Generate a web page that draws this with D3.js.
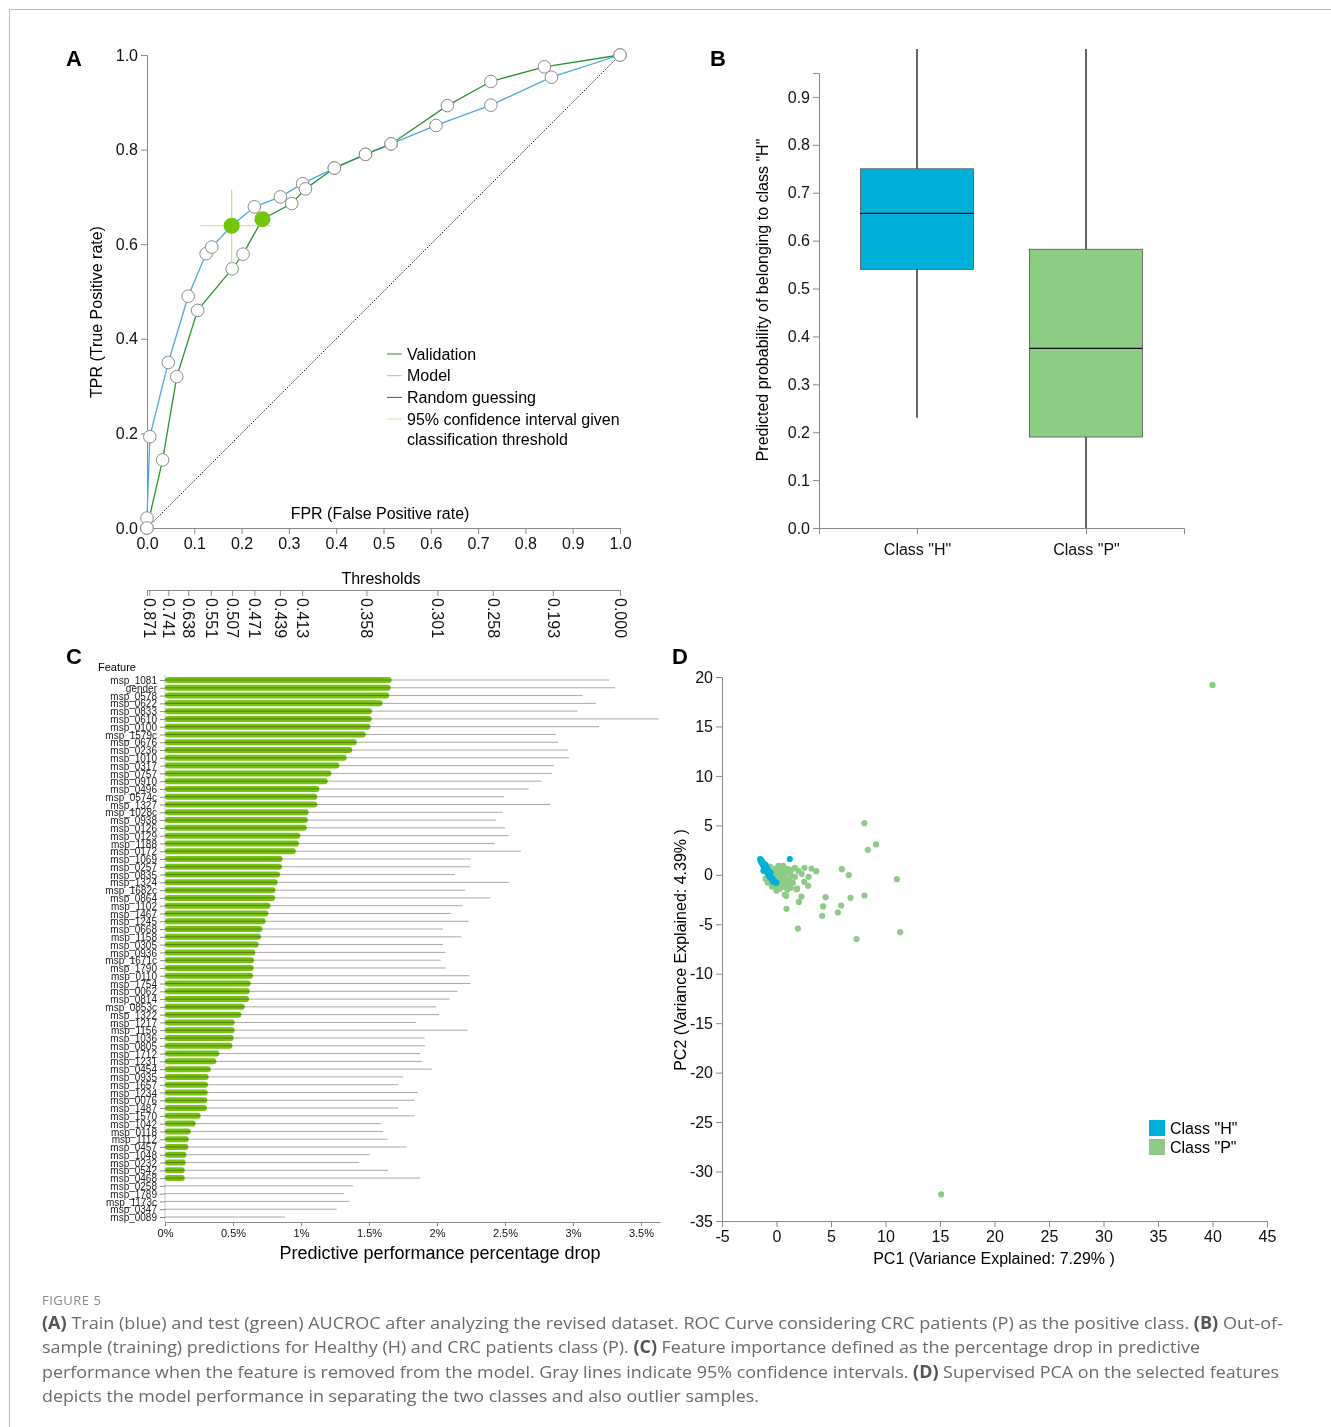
<!DOCTYPE html>
<html lang="en">
<head>
<meta charset="UTF-8">
<title>Figure 5</title>
<script src="https://cdn.jsdelivr.net/npm/d3@7"></script>
<style>
    body { margin: 0; background: #fff; }
    svg { display: block; font-family: "Liberation Sans", Arial, sans-serif; }
    .axis path, .axis line { stroke: #8a8a8a; }
    .axis text { fill: #111; }
    .caption { font-family: "Open Sans", sans-serif; fill: #6b6b6b; }
</style>
</head>
<body>
<svg width="1331" height="1427"></svg>
<script>
    // ---- A: ROC curves ----
    var modelFpr = [0, 0, 0.006, 0.045, 0.087, 0.125, 0.137, 0.179, 0.227, 0.282, 0.329, 0.396, 0.462, 0.516, 0.611, 0.727, 0.855, 1];
    var modelTpr = [0, 0.021, 0.193, 0.35, 0.49, 0.58, 0.594, 0.639, 0.679, 0.70, 0.728, 0.761, 0.79, 0.812, 0.851, 0.894, 0.953, 1];
    var valFpr = [0, 0.033, 0.063, 0.107, 0.18, 0.203, 0.244, 0.306, 0.335, 0.396, 0.462, 0.516, 0.635, 0.727, 0.84, 1];
    var valTpr = [0, 0.144, 0.32, 0.46, 0.548, 0.579, 0.653, 0.686, 0.717, 0.761, 0.79, 0.812, 0.893, 0.944, 0.975, 1];
    var opFpr = [0.179, 0.244];
    var opTpr = [0.639, 0.653];
    var ciFpr = [0.113, 0.262];
    var ciTpr = [0.56, 0.715];
    var thrFpr = [0.005, 0.045, 0.087, 0.135, 0.18, 0.227, 0.281, 0.328, 0.464, 0.614, 0.731, 0.858, 1.0];
    var thrLabels = ["0.871", "0.741", "0.638", "0.551", "0.507", "0.471", "0.439", "0.413", "0.358", "0.301", "0.258", "0.193", "0.000"];
    var rocTicks = [0, 0.1, 0.2, 0.3, 0.4, 0.5, 0.6, 0.7, 0.8, 0.9, 1.0];
    var rocYTicks = [0, 0.2, 0.4, 0.6, 0.8, 1.0];

    // ---- B: box plot ----
    var boxCats = ['Class "H"', 'Class "P"'];
    var boxMin = [0.23, 0.0];
    var boxQ1 = [0.54, 0.19];
    var boxMed = [0.657, 0.375];
    var boxQ3 = [0.75, 0.582];
    var boxMax = [1.0, 1.0];
    var boxColors = ["#00b0d8", "#8dcb87"];
    var boxTicks = [0, 0.1, 0.2, 0.3, 0.4, 0.5, 0.6, 0.7, 0.8, 0.9];

    // ---- C: feature importance ----
    var features = ["msp_1081", "gender", "msp_0578", "msp_0622", "msp_0833", "msp_0610", "msp_0100", "msp_1579c", "msp_0676", "msp_0236",
        "msp_1010", "msp_0317", "msp_0757", "msp_0910", "msp_0496", "msp_0574c", "msp_1327", "msp_1028c", "msp_0938", "msp_0126",
        "msp_0129", "msp_1188", "msp_0172", "msp_1069", "msp_0257", "msp_0835", "msp_1324", "msp_1682c", "msp_0864", "msp_1102",
        "msp_1467", "msp_1245", "msp_0668", "msp_1158", "msp_0305", "msp_0936", "msp_1671c", "msp_1790", "msp_0110", "msp_1754",
        "msp_0062", "msp_0814", "msp_0853c", "msp_1322", "msp_1217", "msp_1156", "msp_1036", "msp_0805", "msp_1712", "msp_1231",
        "msp_0454", "msp_0935", "msp_1657", "msp_1234", "msp_0076", "msp_1487", "msp_1570", "msp_1042", "msp_0118", "msp_1112",
        "msp_0457", "msp_1048", "msp_0232", "msp_0542", "msp_0468", "msp_0258", "msp_1789", "msp_1173c", "msp_0347", "msp_0089"];
    var drop = [1.667, 1.659, 1.649, 1.60, 1.522, 1.52, 1.51, 1.476, 1.41, 1.377,
        1.336, 1.282, 1.223, 1.196, 1.135, 1.12, 1.12, 1.056, 1.051, 1.042,
        0.995, 0.985, 0.961, 0.865, 0.86, 0.846, 0.828, 0.811, 0.809, 0.775,
        0.76, 0.74, 0.716, 0.706, 0.689, 0.664, 0.654, 0.652, 0.647, 0.63,
        0.623, 0.618, 0.586, 0.561, 0.512, 0.512, 0.505, 0.495, 0.40, 0.377,
        0.336, 0.321, 0.316, 0.314, 0.311, 0.309, 0.262, 0.225, 0.189, 0.174,
        0.172, 0.157, 0.152, 0.145, 0.145, 0, 0, 0, 0, 0];
    var ciUpper = [3.267, 3.309, 3.071, 3.169, 3.032, 3.63, 3.191, 2.873, 2.89, 2.963,
        2.971, 2.86, 2.846, 2.77, 2.674, 2.493, 2.831, 2.483, 2.436, 2.5,
        2.527, 2.424, 2.618, 2.25, 2.245, 2.132, 2.529, 2.208, 2.392, 2.189,
        2.10, 2.233, 2.044, 2.179, 2.044, 2.064, 2.027, 2.064, 2.24, 2.245,
        2.152, 2.093, 1.995, 2.015, 1.848, 2.225, 1.909, 1.912, 1.877, 1.89,
        1.963, 1.752, 1.718, 1.86, 1.833, 1.716, 1.836, 1.59, 1.605, 1.637,
        1.777, 1.505, 1.429, 1.64, 1.877, 1.382, 1.316, 1.355, 1.262, 0.882];
    var dropTicks = [0, 0.5, 1, 1.5, 2, 2.5, 3, 3.5];

    // ---- D: supervised PCA ----
    var pcaH = [[-1.5, 1.6], [-1.45, 1.4], [-1.4, 1.5], [-1.35, 1.2], [-1.3, 1.3], [-1.25, 1.0], [-1.2, 1.15], [-1.15, 0.8],
        [-1.1, 0.95], [-1.05, 0.6], [-1.0, 1.0], [-0.95, 0.5], [-0.9, 0.7], [-0.85, 0.3], [-0.8, 0.1], [-0.75, 0.4],
        [-0.7, 0.0], [-0.6, -0.1], [-0.55, 0.2], [-0.5, -0.3], [-0.4, -0.5], [-0.35, -0.4], [-0.2, -0.6], [-0.1, -0.75],
        [0.0, -0.8], [-0.3, -0.7], [-1.2, 0.4], [-0.65, -0.2], [1.22, 1.6]];
    var pcaP = [[40.0, 19.2], [15.1, -32.3], [8.07, 5.22], [9.14, 3.07], [8.38, 2.53], [11.04, -0.44], [11.35, -5.8],
        [7.34, -6.5], [1.96, -5.43], [0.92, -3.44], [4.19, -4.15], [4.28, -3.2], [4.5, -2.26], [5.63, -3.81],
        [5.93, -3.1], [6.79, -2.33], [8.07, -2.09], [5.99, 0.57], [6.64, -0.03], [3.64, 0.37], [3.21, 0.64],
        [2.94, -0.2], [2.9, -1.11], [2.57, 0.71], [2.54, -0.71], [2.29, -2.2], [1.83, -1.45], [1.68, 0.71],
        [1.07, 0.57], [0.89, -2.12], [0.76, -2.02], [0.58, 0.84], [2.05, -2.74], [2.31, 0.1],
        [-0.9, 0.3], [-0.7, -0.2], [-0.5, 0.5], [-0.4, -0.6], [-0.3, 0.1], [-0.2, -1.1], [-0.1, 0.6], [0, -0.3],
        [0.1, 0.2], [0.2, -0.9], [0.3, 0.7], [0.3, -1.4], [0.4, -0.1], [0.5, 0.4], [0.5, -0.7], [0.6, 0.9],
        [0.7, -1.2], [0.8, 0.1], [0.8, -0.5], [0.9, 0.6], [1.0, -0.9], [1.1, 0.3], [1.2, -0.4], [1.3, -1.3],
        [1.4, 0.5], [1.5, -0.8], [-1.0, -0.4], [-0.6, 0.8], [0.0, -1.6], [0.2, 0.9], [-0.8, -0.8], [1.0, -1.5],
        [0.6, -0.2], [-0.2, 0.3], [1.7, -0.2], [1.9, -1.4], [2.0, 0.4], [-0.4, -1.2], [0.1, -0.5], [1.3, 0.0]];
    var pcaXTicks = [-5, 0, 5, 10, 15, 20, 25, 30, 35, 40, 45];
    var pcaYTicks = [-35, -30, -25, -20, -15, -10, -5, 0, 5, 10, 15, 20];

    var caption = [
        [["(A)", 1], [" Train (blue) and test (green) AUCROC after analyzing the revised dataset. ROC Curve considering CRC patients (P) as the positive class. ", 0], ["(B)", 1], [" Out-of-", 0]],
        [["sample (training) predictions for Healthy (H) and CRC patients class (P). ", 0], ["(C)", 1], [" Feature importance defined as the percentage drop in predictive", 0]],
        [["performance when the feature is removed from the model. Gray lines indicate 95% confidence intervals. ", 0], ["(D)", 1], [" Supervised PCA on the selected features", 0]],
        [["depicts the model performance in separating the two classes and also outlier samples.", 0]]
    ];
    var captionWidths = [1241, 1158, 1237, 717];
</script>
<script>
    var svg = d3.select("svg");

    // frame
    svg.append("path").attr("d", "M9.5,1427V9.5H1331").attr("fill", "none").attr("stroke", "#bdbdbd");

    function panelLetter(t, x, y) {
        svg.append("text").attr("x", x).attr("y", y).text(t)
            .style("font-size", "22px").style("font-weight", "bold");
    }

    // ======== A ========
    var xA = d3.scaleLinear().domain([0, 1]).range([147, 620]);
    var yA = d3.scaleLinear().domain([0, 1]).range([528, 55]);
    var gA = svg.append("g");

    gA.append("g").attr("class", "axis").attr("transform", "translate(147,0)")
        .call(d3.axisLeft(yA).tickValues(rocYTicks).tickFormat(d3.format(".1f")))
        .selectAll("text").style("font-size", "16px");
    gA.append("g").attr("class", "axis").attr("transform", "translate(0,528)")
        .call(d3.axisBottom(xA).tickValues(rocTicks).tickFormat(d3.format(".1f")))
        .selectAll("text").style("font-size", "16px").attr("y", 10);

    var thrAxis = gA.append("g").attr("class", "axis").attr("transform", "translate(0,590)")
        .call(d3.axisBottom(xA).tickValues(thrFpr).tickFormat(function (d, i) { return thrLabels[i]; }));
    thrAxis.selectAll("text").style("font-size", "16px")
        .attr("transform", "rotate(90)").attr("x", 8).attr("y", 0).attr("dy", "0.35em")
        .style("text-anchor", "start");

    gA.append("text").attr("x", 381).attr("y", 584).attr("text-anchor", "middle").style("font-size", "16px").text("Thresholds");
    gA.append("text").attr("x", 380).attr("y", 519).attr("text-anchor", "middle").style("font-size", "16px").text("FPR (False Positive rate)");
    gA.append("text").attr("transform", "translate(102,312) rotate(-90)").attr("text-anchor", "middle")
        .style("font-size", "16px").text("TPR (True Positive rate)");

    gA.append("line").attr("x1", xA(0)).attr("y1", yA(0)).attr("x2", xA(1)).attr("y2", yA(1))
        .attr("stroke", "#222").attr("stroke-width", 1).attr("stroke-dasharray", "1.5,1.5");

    var lineA = d3.line().x(function (d) { return xA(d[0]); }).y(function (d) { return yA(d[1]); });
    var modelPts = d3.zip(modelFpr, modelTpr);
    var valPts = d3.zip(valFpr, valTpr);
    gA.append("path").datum(modelPts).attr("d", lineA).attr("fill", "none").attr("stroke", "#4ea8e6").attr("stroke-width", 1.3);
    gA.append("path").datum(valPts).attr("d", lineA).attr("fill", "none").attr("stroke", "#2a9430").attr("stroke-width", 1.3);

    gA.selectAll(".pt").data(modelPts.concat(valPts)).enter().append("circle")
        .attr("cx", function (d) { return xA(d[0]); }).attr("cy", function (d) { return yA(d[1]); })
        .attr("r", 6.3).attr("fill", "#fff").attr("stroke", "#8c8c8c").attr("stroke-width", 1);

    gA.append("line").attr("x1", xA(ciFpr[0])).attr("x2", xA(ciFpr[1])).attr("y1", yA(opTpr[0])).attr("y2", yA(opTpr[0]))
        .attr("stroke", "#bfe28f").attr("stroke-width", 1.2);
    gA.append("line").attr("x1", xA(opFpr[0])).attr("x2", xA(opFpr[0])).attr("y1", yA(ciTpr[0])).attr("y2", yA(ciTpr[1]))
        .attr("stroke", "#bfe28f").attr("stroke-width", 1.2);
    gA.selectAll(".op").data(d3.zip(opFpr, opTpr)).enter().append("circle")
        .attr("cx", function (d) { return xA(d[0]); }).attr("cy", function (d) { return yA(d[1]); })
        .attr("r", 8).attr("fill", "#76c30c");

    var legA = [["Validation", "#2a9430"], ["Model", "#8cc6ef"], ["Random guessing", "#555"], ["95% confidence interval given", "#c6e79c"]];
    legA.forEach(function (d, i) {
        var y = 354 + i * 21.7;
        gA.append("line").attr("x1", 387).attr("x2", 402).attr("y1", y).attr("y2", y).attr("stroke", d[1]);
        gA.append("text").attr("x", 407).attr("y", y + 5.5).style("font-size", "16px").text(d[0]);
    });
    gA.append("text").attr("x", 407).attr("y", 444.5).style("font-size", "16px").text("classification threshold");
    panelLetter("A", 66, 66);

    // ======== B ========
    var yB = d3.scaleLinear().domain([0, 0.95]).range([528, 73]);
    var xB = d3.scalePoint().domain(boxCats).range([819, 1184]).padding(0.58);
    var gB = svg.append("g");
    gB.append("g").attr("class", "axis").attr("transform", "translate(819,0)")
        .call(d3.axisLeft(yB).tickValues(boxTicks).tickFormat(d3.format(".1f")))
        .selectAll("text").style("font-size", "16px");
    gB.append("g").attr("class", "axis").attr("transform", "translate(0,528)")
        .call(d3.axisBottom(xB))
        .selectAll("text").style("font-size", "16px").attr("y", 16);
    gB.append("text").attr("transform", "translate(768,300) rotate(-90)").attr("text-anchor", "middle")
        .style("font-size", "16px").text('Predicted probability of belonging to class "H"');

    var boxW = 113;
    boxCats.forEach(function (c, i) {
        var cx = xB(c);
        gB.append("line").attr("x1", cx).attr("x2", cx).attr("y1", yB(boxMin[i])).attr("y2", yB(boxMax[i]))
            .attr("stroke", "#111").attr("stroke-width", 1.3);
        gB.append("rect").attr("x", cx - boxW / 2).attr("width", boxW)
            .attr("y", yB(boxQ3[i])).attr("height", yB(boxQ1[i]) - yB(boxQ3[i]))
            .attr("fill", boxColors[i]).attr("stroke", "#555").attr("stroke-width", 0.8);
        gB.append("line").attr("x1", cx - boxW / 2).attr("x2", cx + boxW / 2).attr("y1", yB(boxMed[i])).attr("y2", yB(boxMed[i]))
            .attr("stroke", "#111").attr("stroke-width", 1.4);
    });
    panelLetter("B", 710, 66);

    // ======== C ========
    var xC = d3.scaleLinear().domain([0, 3.64]).range([165, 660]);
    var yC = d3.scalePoint().domain(features).range([680, 1217]);
    var gC = svg.append("g");
    gC.append("line").attr("x1", 165).attr("x2", 165).attr("y1", 675).attr("y2", 1222).attr("stroke", "#c8c8c8");
    var axC = gC.append("g").attr("class", "axis").attr("transform", "translate(165,0)")
        .call(d3.axisLeft(yC).tickSize(5).tickSizeOuter(0));
    axC.select(".domain").remove();
    axC.selectAll("line").attr("stroke", "#999");
    axC.selectAll("text").style("font-size", "10px").style("fill", "#222").attr("dy", "0.36em");
    gC.append("g").attr("class", "axis").attr("transform", "translate(0,1222)")
        .call(d3.axisBottom(xC).tickValues(dropTicks).tickSize(4).tickSizeOuter(0)
            .tickFormat(function (d) { return d + "%"; }))
        .selectAll("text").style("font-size", "11px").attr("y", 7);
    gC.selectAll(".axis .domain").attr("stroke", "#c8c8c8");

    gC.selectAll(".bar").data(features).enter().append("rect")
        .attr("x", xC(0))
        .attr("y", function (d) { return yC(d) - 3; })
        .attr("height", 6).attr("rx", 3)
        .attr("width", function (d, i) { return xC(drop[i]) - xC(0); })
        .attr("fill", "#77c30f");
    gC.selectAll(".ci").data(features).enter().append("line")
        .attr("x1", xC(0))
        .attr("x2", function (d, i) { return xC(ciUpper[i]); })
        .attr("y1", function (d) { return yC(d); })
        .attr("y2", function (d) { return yC(d); })
        .attr("stroke", "#a8a8a8").attr("stroke-width", 1)
        .style("mix-blend-mode", "multiply");

    gC.append("text").attr("x", 98).attr("y", 671).style("font-size", "11px").text("Feature");
    gC.append("text").attr("x", 440).attr("y", 1259).attr("text-anchor", "middle").style("font-size", "18px")
        .text("Predictive performance percentage drop");
    panelLetter("C", 66, 664);

    // ======== D ========
    var xD = d3.scaleLinear().domain([-5, 45]).range([722, 1267]);
    var yD = d3.scaleLinear().domain([-35, 20]).range([1221, 677]);
    var plain = function (d) { return String(d); };
    var gD = svg.append("g");
    gD.append("g").attr("class", "axis").attr("transform", "translate(722,0)")
        .call(d3.axisLeft(yD).tickValues(pcaYTicks).tickFormat(plain))
        .selectAll("text").style("font-size", "16px");
    gD.append("g").attr("class", "axis").attr("transform", "translate(0,1221)")
        .call(d3.axisBottom(xD).tickValues(pcaXTicks).tickFormat(plain))
        .selectAll("text").style("font-size", "16px").attr("y", 10);
    gD.append("text").attr("x", 994).attr("y", 1264).attr("text-anchor", "middle").style("font-size", "16px")
        .text("PC1 (Variance Explained: 7.29% )");
    gD.append("text").attr("transform", "translate(686,950) rotate(-90)").attr("text-anchor", "middle")
        .style("font-size", "16px").text("PC2 (Variance Explained: 4.39% )");

    gD.selectAll(".p").data(pcaP).enter().append("circle")
        .attr("cx", function (d) { return xD(d[0]); }).attr("cy", function (d) { return yD(d[1]); })
        .attr("r", 3.1).attr("fill", "#8dcb87");
    gD.selectAll(".h").data(pcaH).enter().append("circle")
        .attr("cx", function (d) { return xD(d[0]); }).attr("cy", function (d) { return yD(d[1]); })
        .attr("r", 3.1).attr("fill", "#00b0d8");

    boxCats.forEach(function (c, i) {
        var y = 1120 + i * 19;
        gD.append("rect").attr("x", 1149).attr("y", y).attr("width", 16).attr("height", 16).attr("fill", boxColors[i]);
        gD.append("text").attr("x", 1170).attr("y", y + 13.5).style("font-size", "16px").text(c);
    });
    panelLetter("D", 672, 664);

    // ======== caption ========
    svg.append("text").attr("class", "caption").attr("x", 42).attr("y", 1305)
        .style("font-size", "13px").style("letter-spacing", "0.5px").style("fill", "#8a8a8a").text("FIGURE 5");
    caption.forEach(function (parts, i) {
        var t = svg.append("text").attr("class", "caption").attr("x", 42).attr("y", 1329 + i * 24.3)
            .style("font-size", "17px")
            .attr("textLength", captionWidths[i]).attr("lengthAdjust", "spacingAndGlyphs");
        parts.forEach(function (p) {
            t.append("tspan").text(p[0])
                .style("font-weight", p[1] ? "bold" : "normal")
                .style("fill", p[1] ? "#555" : null);
        });
    });
</script>
</body>
</html>
